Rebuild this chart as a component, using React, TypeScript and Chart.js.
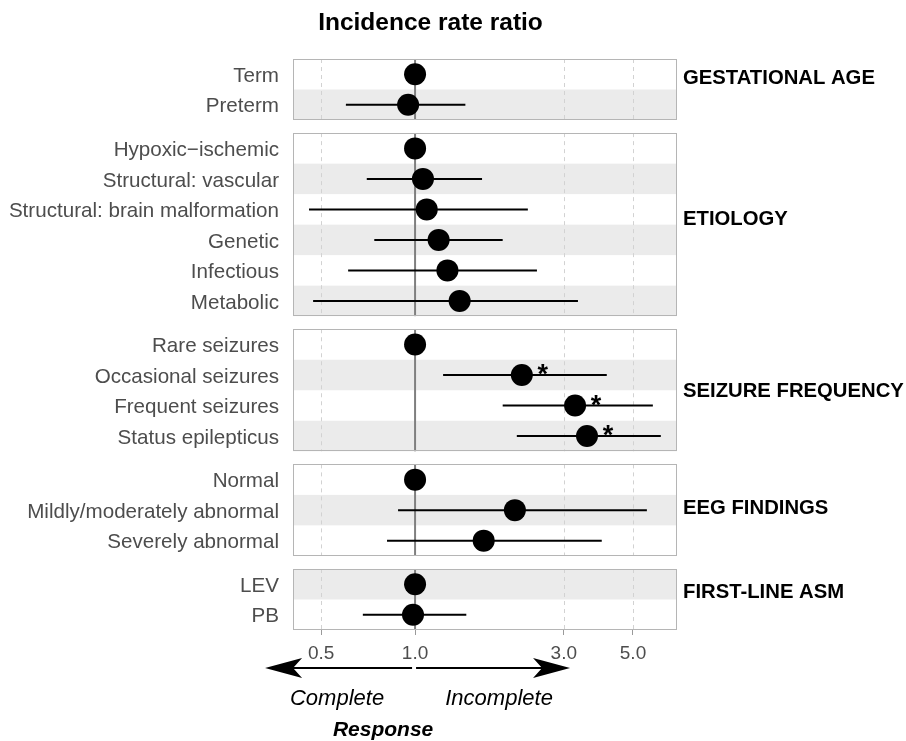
import React, { useEffect, useRef } from "react";
import { Chart, registerables } from "chart.js";
Chart.register(...registerables);

// ---------- data ----------
const groupNames = ["GESTATIONAL AGE", "ETIOLOGY", "SEIZURE FREQUENCY", "EEG FINDINGS", "FIRST-LINE ASM"];
const groupSizes = [2, 6, 4, 3, 2];
const groupLabelRow = [0.6, 2.8, 2.0, 1.4, 0.73];
const categories = [
  "Term", "Preterm",
  "Hypoxic\u2212ischemic", "Structural: vascular", "Structural: brain malformation", "Genetic", "Infectious", "Metabolic",
  "Rare seizures", "Occasional seizures", "Frequent seizures", "Status epilepticus",
  "Normal", "Mildly/moderately abnormal", "Severely abnormal",
  "LEV", "PB",
];
const estimates = [1.0, 0.95, 1.0, 1.06, 1.09, 1.19, 1.27, 1.39, 1.0, 2.2, 3.26, 3.56, 1.0, 2.09, 1.66, 1.0, 0.985];
const lowerCI = [null, 0.6, null, 0.7, 0.457, 0.74, 0.61, 0.471, null, 1.23, 1.91, 2.12, null, 0.882, 0.813, null, 0.68];
const upperCI = [null, 1.45, null, 1.64, 2.3, 1.91, 2.46, 3.33, null, 4.12, 5.79, 6.14, null, 5.54, 3.97, null, 1.46];
const significant = [false, false, false, false, false, false, false, false, false, true, true, true, false, false, false, false, false];
const xTickValues = [0.5, 1, 3, 5];
const xTickLabels = ["0.5", "1.0", "3.0", "5.0"];
const xMin = 0.406;
const xMax = 6.92;

// ---------- layout ----------
const W = 906, H = 741;
const ROW = 30.5;
const TOTAL = 571;
const GAP = (TOTAL - groupSizes.reduce((a, b) => a + b, 0) * ROW) / (groupSizes.length - 1);
const panelStart: number[] = [];
const rowPos: number[] = [];
const rowGroup: number[] = [];
{
  let s = 0;
  groupSizes.forEach((n, g) => {
    panelStart.push(s);
    for (let k = 0; k < n; k++) { rowPos.push(s + (k + 0.5) * ROW); rowGroup.push(g); }
    s += n * ROW + GAP;
  });
}
const FONT = "'Liberation Sans', Arial, Helvetica, sans-serif";

const panelPlugin = {
  id: "panels",
  beforeDatasetsDraw(chart: any) {
    const { ctx, chartArea, scales } = chart;
    const x = scales.x, y = scales.y;
    const L = chartArea.left, R = chartArea.right;
    ctx.save();
    groupSizes.forEach((n, g) => {
      const top = y.getPixelForValue(panelStart[g]);
      const bottom = y.getPixelForValue(panelStart[g] + n * ROW);
      ctx.fillStyle = "#ffffff";
      ctx.fillRect(L, top, R - L, bottom - top);
      rowPos.forEach((p, i) => {
        if (rowGroup[i] === g && i % 2 === 1) {
          const t = y.getPixelForValue(p - ROW / 2);
          const b = y.getPixelForValue(p + ROW / 2);
          ctx.fillStyle = "#ebebeb";
          ctx.fillRect(L, t, R - L, b - t);
        }
      });
      ctx.strokeStyle = "#d2d2d2";
      ctx.lineWidth = 1;
      ctx.setLineDash([4, 4]);
      xTickValues.forEach((v) => {
        if (v === 1) return;
        const px = Math.round(x.getPixelForValue(v)) + 0.5;
        ctx.beginPath(); ctx.moveTo(px, top); ctx.lineTo(px, bottom); ctx.stroke();
      });
      ctx.setLineDash([]);
      const p1 = x.getPixelForValue(1);
      ctx.strokeStyle = "#7f7f7f";
      ctx.lineWidth = 2;
      ctx.beginPath(); ctx.moveTo(p1, top); ctx.lineTo(p1, bottom); ctx.stroke();
      ctx.strokeStyle = "#b5b5b5";
      ctx.lineWidth = 1;
      ctx.strokeRect(Math.round(L) + 0.5, Math.round(top) + 0.5, Math.round(R - L) - 1, Math.round(bottom - top) - 1);
    });
    ctx.restore();
  },
  afterDatasetsDraw(chart: any) {
    const { ctx, scales } = chart;
    const x = scales.x, y = scales.y;
    ctx.save();
    ctx.fillStyle = "#000";
    ctx.font = `bold 27px ${FONT}`;
    ctx.textAlign = "center";
    ctx.textBaseline = "alphabetic";
    significant.forEach((s, i) => {
      if (!s) return;
      const cx = x.getPixelForValue(estimates[i]);
      const cy = y.getPixelForValue(rowPos[i]);
      ctx.fillText("*", cx + 21, cy + 8);
    });
    ctx.restore();
  },
  afterDraw(chart: any) {
    const { ctx, chartArea, scales } = chart;
    const x = scales.x, y = scales.y;
    ctx.save();
    // title
    ctx.fillStyle = "#000";
    ctx.font = `bold 24.5px ${FONT}`;
    ctx.textAlign = "center";
    ctx.textBaseline = "middle";
    ctx.fillText("Incidence rate ratio", 430.5, 23);
    // group labels
    ctx.font = `bold 20.3px ${FONT}`;
    ctx.textAlign = "left";
    groupNames.forEach((name, g) => {
      ctx.fillText(name, chartArea.right + 6, y.getPixelForValue(panelStart[g] + groupLabelRow[g] * ROW) + 1);
    });
    // arrows
    const p1 = x.getPixelForValue(1);
    const ay = 668;
    const drawArrow = (from: number, to: number) => {
      const dir = Math.sign(to - from);
      ctx.strokeStyle = "#000";
      ctx.lineWidth = 2;
      ctx.beginPath(); ctx.moveTo(from, ay); ctx.lineTo(to - dir * 20, ay); ctx.stroke();
      ctx.fillStyle = "#000";
      ctx.beginPath();
      ctx.moveTo(to, ay);
      ctx.lineTo(to - dir * 37, ay - 10);
      ctx.lineTo(to - dir * 28, ay);
      ctx.lineTo(to - dir * 37, ay + 10);
      ctx.closePath();
      ctx.fill();
    };
    drawArrow(p1 - 3, p1 - 150);
    drawArrow(p1 + 1, p1 + 155);
    ctx.fillStyle = "#000";
    ctx.textAlign = "center";
    ctx.textBaseline = "middle";
    ctx.font = `italic 22px ${FONT}`;
    ctx.fillText("Complete", p1 - 78, 699);
    ctx.fillText("Incomplete", p1 + 84, 699);
    ctx.font = `italic bold 21px ${FONT}`;
    ctx.fillText("Response", p1 - 32, 730);
    ctx.restore();
  },
};

export default function App() {
  const ref = useRef<HTMLCanvasElement | null>(null);
  useEffect(() => {
    if (!ref.current) return;
    const ciSets = estimates
      .map((_, i) => i)
      .filter((i) => lowerCI[i] != null && upperCI[i] != null)
      .map((i) => ({
        type: "scatter" as const,
        data: [{ x: lowerCI[i] as number, y: rowPos[i] }, { x: upperCI[i] as number, y: rowPos[i] }],
        showLine: true,
        borderColor: "#000",
        borderWidth: 2,
        pointRadius: 0,
        pointHoverRadius: 0,
        order: 1,
      }));
    const chart = new Chart(ref.current, {
      type: "scatter",
      data: {
        datasets: [
          {
            data: estimates.map((e, i) => ({ x: e, y: rowPos[i] })),
            pointRadius: 11,
            pointHoverRadius: 11,
            backgroundColor: "#000",
            borderColor: "#000",
            borderWidth: 0,
            order: 0,
          },
          ...ciSets,
        ],
      },
      options: {
        responsive: false,
        animation: false,
        events: [],
        layout: { padding: { left: 0, right: W - 677, top: 59, bottom: 0 } },
        plugins: { legend: { display: false }, tooltip: { enabled: false }, title: { display: false } },
        scales: {
          x: {
            type: "logarithmic",
            position: "bottom",
            min: xMin,
            max: xMax,
            afterBuildTicks: (s: any) => { s.ticks = xTickValues.map((v) => ({ value: v })); },
            afterFit: (s: any) => { s.height = H - 630; },
            grid: { display: true, drawOnChartArea: false, drawTicks: true, tickLength: 5, color: "#9a9a9a" },
            border: { display: false },
            ticks: {
              autoSkip: false,
              maxRotation: 0,
              padding: 7,
              color: "#4d4d4d",
              font: { family: FONT, size: 19 },
              callback: (_v: any, i: number) => xTickLabels[i],
            },
          },
          y: {
            type: "linear",
            min: 0,
            max: TOTAL,
            reverse: true,
            afterBuildTicks: (s: any) => { s.ticks = rowPos.map((v) => ({ value: v })); },
            afterFit: (s: any) => { s.width = 293; },
            grid: { display: false, drawTicks: false },
            border: { display: false },
            ticks: {
              autoSkip: false,
              padding: 14,
              labelOffset: 2,
              color: "#4d4d4d",
              font: { family: FONT, size: 20.6 },
              callback: (_v: any, i: number) => categories[i],
            },
          },
        },
      },
      plugins: [panelPlugin],
    } as any);
    return () => chart.destroy();
  }, []);
  return (
    <div style={{ position: "absolute", left: 0, top: 0, width: W, height: H, background: "#fff" }}>
      <canvas ref={ref} width={W} height={H} style={{ display: "block" }} />
    </div>
  );
}
